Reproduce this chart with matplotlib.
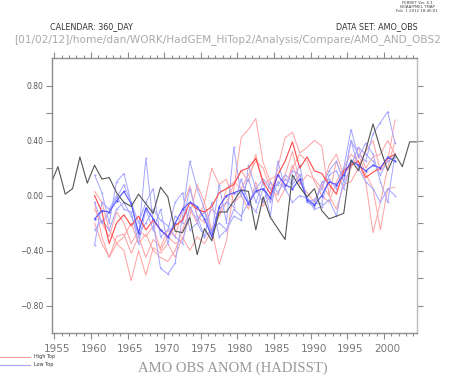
import matplotlib
matplotlib.use("Agg")
import matplotlib.pyplot as plt
from matplotlib.ticker import MultipleLocator, FixedLocator
from matplotlib.transforms import ScaledTranslation
import numpy as np

# observed AMO (HadISST), one value per year
obs_years = np.arange(1954, 2005)
obs = [0.08, 0.21, 0.01, 0.05, 0.28, 0.09, 0.22, 0.12, 0.13, 0.02,
       -0.05, -0.08, 0.01, -0.06, -0.13, 0.06, -0.01, -0.26, -0.27, -0.16,
       -0.43, -0.24, -0.33, -0.12, -0.12, -0.04, 0.04, 0.03, -0.25, -0.01,
       -0.16, -0.24, -0.32, 0.15, 0.06, -0.01, 0.05, -0.11, -0.17, -0.15,
       -0.13, 0.26, 0.18, 0.33, 0.52, 0.34, 0.18, 0.30, 0.21, 0.39, 0.39]

# model runs, 1960-2001
run_years = np.arange(1960, 2002)

high_top = [
    [-0.05, -0.30, -0.45, -0.35, -0.40, -0.62, -0.40, -0.58, -0.38, -0.42,
     -0.35, -0.45, -0.30, -0.40, -0.30, -0.35, -0.25, -0.50, -0.33, 0.05,
     0.42, 0.48, 0.56, 0.24, 0.10, -0.05, 0.05, 0.20, 0.30, 0.25,
     0.10, 0.00, -0.05, 0.10, 0.20, 0.30, 0.25, 0.10, -0.27, -0.05,
     0.20, 0.40],
    [0.03, -0.05, -0.25, -0.35, -0.30, -0.20, -0.35, -0.28, -0.40, -0.45,
     -0.48, -0.40, -0.25, -0.10, -0.20, -0.05, 0.20, 0.08, 0.12, -0.05,
     0.00, -0.10, 0.10, -0.08, 0.00, 0.20, 0.42, 0.46, 0.31, 0.35,
     0.40, 0.36, 0.00, -0.10, 0.08, 0.10, 0.20, 0.32, 0.40, 0.18,
     0.25, 0.55],
    [-0.10, -0.20, -0.30, -0.12, -0.20, -0.35, -0.25, -0.30, -0.22, -0.40,
     -0.30, -0.35, -0.32, -0.15, 0.08, -0.05, -0.25, -0.15, 0.05, 0.10,
     0.05, 0.15, 0.25, 0.20, 0.05, 0.00, 0.15, 0.32, 0.10, 0.02,
     -0.05, 0.08, 0.00, 0.25, 0.10, 0.20, 0.30, 0.16, 0.05, -0.25,
     0.05, 0.06],
    [-0.20, -0.35, -0.45, -0.30, -0.28, -0.42, -0.30, -0.45, -0.32, -0.38,
     -0.25, -0.30, -0.10, 0.07, -0.15, -0.20, -0.10, -0.15, -0.05, 0.08,
     0.18, 0.10, 0.30, 0.08, 0.12, 0.15, 0.05, 0.22, 0.08, 0.15,
     0.12, 0.05, 0.22, 0.30, 0.15, 0.22, 0.35, 0.20, 0.28, 0.30,
     0.40, 0.30],
]
high_top_mean = [0.00, -0.12, -0.35, -0.20, -0.14, -0.22, -0.15, -0.25, -0.18, -0.25,
                 -0.30, -0.22, -0.18, -0.05, -0.10, -0.12, -0.08, 0.02, 0.05, 0.08,
                 0.18, 0.20, 0.27, 0.10, 0.01, 0.15, 0.25, 0.39, 0.20, 0.28,
                 0.18, 0.16, 0.08, 0.01, 0.18, 0.22, 0.25, 0.13, 0.17, 0.20,
                 0.27, 0.30]

low_top = [
    [0.15, 0.02, -0.20, 0.10, 0.16, -0.05, -0.30, 0.27, -0.20, -0.53,
     -0.57, -0.49, -0.15, 0.25, 0.05, -0.10, -0.28, 0.08, -0.20, 0.35,
     0.00, 0.12, -0.05, 0.10, -0.15, 0.25, 0.05, 0.18, 0.15, -0.05,
     -0.03, 0.05, 0.18, 0.25, 0.10, 0.40, 0.30, 0.25, 0.45, 0.53,
     0.61, 0.38],
    [-0.36, -0.05, -0.10, 0.00, -0.10, -0.12, -0.35, -0.10, -0.25, -0.10,
     -0.35, -0.15, -0.20, 0.05, -0.15, -0.30, -0.25, -0.20, -0.25, -0.10,
     -0.15, -0.05, -0.12, 0.05, -0.05, 0.10, 0.05, -0.05, 0.00, -0.02,
     -0.10, -0.08, -0.03, -0.15, 0.12, 0.40, 0.20, 0.10, 0.05, -0.05,
     0.05, 0.00],
    [-0.05, -0.20, -0.12, -0.02, 0.08, -0.05, -0.20, -0.05, 0.05, -0.30,
     -0.25, -0.05, 0.02, -0.25, -0.20, -0.30, -0.05, -0.30, -0.25, -0.15,
     -0.18, 0.22, 0.05, 0.12, 0.05, 0.08, 0.15, 0.10, 0.22, -0.05,
     -0.08, 0.10, 0.12, 0.05, 0.20, 0.48, 0.28, 0.38, 0.30, 0.10,
     -0.05, 0.30],
    [-0.25, -0.18, -0.25, -0.10, -0.05, -0.15, -0.28, -0.20, -0.10, -0.18,
     -0.22, -0.30, -0.35, -0.08, -0.18, -0.12, -0.30, -0.10, -0.05, -0.08,
     0.12, -0.05, 0.05, -0.05, 0.10, 0.02, 0.12, 0.08, 0.15, -0.02,
     -0.06, -0.06, 0.15, 0.18, 0.05, 0.22, 0.35, 0.30, 0.25, 0.15,
     0.25, 0.28],
]
low_top_mean = [-0.17, -0.11, -0.12, -0.04, 0.03, -0.06, -0.27, -0.09, -0.17, -0.25,
                -0.30, -0.20, -0.10, -0.05, -0.08, -0.17, -0.30, -0.08, 0.00, 0.02,
                0.04, -0.06, 0.03, 0.05, -0.02, 0.15, 0.08, 0.05, 0.12, -0.03,
                -0.07, 0.00, 0.10, 0.08, 0.15, 0.25, 0.22, 0.18, 0.22, 0.20,
                0.28, 0.25]

axis_grey = '#8c8c8c'
text_grey = '#555555'

fig = plt.figure(figsize=(4.55, 3.77), dpi=100)
ax = fig.add_axes([51.7 / 455, 44 / 377, 365.3 / 455, 275 / 377])

# values sit at mid-year
for run in high_top:
    ax.plot(run_years + 0.5, run, color='#ffa0a0', lw=0.7)
for run in low_top:
    ax.plot(run_years + 0.5, run, color='#a4a4ff', lw=0.7, marker='o', ms=1.3, mew=0)
ax.plot(run_years + 0.5, high_top_mean, color='#ff4848', lw=0.8)
ax.plot(run_years + 0.5, low_top_mean, color='#5555ff', lw=0.8, marker='o', ms=1.6, mew=0)
ax.plot(obs_years + 0.5, obs, color='#555555', lw=0.8)

ax.set_xlim(1954.65, 2004.5)
ax.set_ylim(-1.0, 1.0)

for s in ax.spines.values():
    s.set_color(axis_grey)
    s.set_linewidth(1.0)
ax.spines['right'].set_color('#bbbbbb')

ax.xaxis.set_major_locator(FixedLocator(np.arange(1955, 2001, 5)))
ax.xaxis.set_minor_locator(MultipleLocator(1))
ax.yaxis.set_major_locator(FixedLocator([-0.8, -0.4, 0.0, 0.4, 0.8]))
ax.yaxis.set_minor_locator(FixedLocator([-0.6, -0.2, 0.2, 0.6]))
ax.set_yticklabels(['\u22120.80', '\u22120.40', '0.00', '0.40', '0.80'])

ax.tick_params(axis='x', which='both', direction='out', top=True, bottom=True,
               colors=axis_grey, labelcolor='#777777', labelsize=7.5, width=0.8, pad=4)
ax.tick_params(axis='x', which='major', length=4)
ax.tick_params(axis='x', which='minor', length=2.2)
ax.tick_params(axis='y', which='both', direction='out', left=True, right=True,
               length=4, width=0.8, colors=axis_grey, labelcolor=text_grey, labelsize=5.5, pad=2)

# year labels centred on the middle of the year
for lab in ax.get_xticklabels():
    lab.set_transform(lab.get_transform() + ScaledTranslation(3 / 100, 0, fig.dpi_scale_trans))

# header texts
fig.text(50 / 455, 1 - 27 / 377, 'CALENDAR: 360_DAY', fontsize=5.8, color='#333333', va='center')
fig.text(418 / 455, 1 - 27 / 377, 'DATA SET: AMO_OBS', fontsize=5.8, color='#333333',
         va='center', ha='right')
fig.text(14 / 455, 1 - 40 / 377, '[01/02/12]/home/dan/WORK/HadGEM_HiTop2/Analysis/Compare/AMO_AND_OBS2',
         fontsize=7.55, color='#aaaaaa', va='center')
fig.text(417 / 455, 1 - 7 / 377, 'FERRET Ver. 6.1\nNOAA/PMEL TMAP\nFeb  1 2012 18:46:01',
         fontsize=2.8, color='#444444', va='center', ha='center', linespacing=1.1)

# legend under the axes
fig.add_artist(plt.Line2D([0, 30 / 455], [1 - 356.5 / 377] * 2, color='#ffa0a0', lw=0.8))
fig.add_artist(plt.Line2D([0, 30 / 455], [1 - 364.5 / 377] * 2, color='#a4a4ff', lw=0.8))
fig.text(34 / 455, 1 - 356.5 / 377, 'High Top', fontsize=3.5, color='#333333', va='center')
fig.text(34 / 455, 1 - 364.5 / 377, 'Low Top', fontsize=3.5, color='#333333', va='center')

fig.text(233 / 455, 1 - 368 / 377, 'AMO OBS ANOM (HADISST)', fontsize=10.5, color='#999999',
         ha='center', va='center', family='Liberation Serif')

plt.savefig('out.png', dpi=100)
